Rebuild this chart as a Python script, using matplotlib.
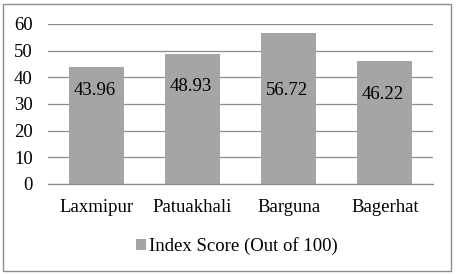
import matplotlib
matplotlib.use("Agg")
import matplotlib.pyplot as plt
from matplotlib.patches import Rectangle

districts = ["Laxmipur", "Patuakhali", "Barguna", "Bagerhat"]
scores = [43.96, 48.93, 56.72, 46.22]
label_heights = [35.2, 36.4, 35.2, 33.6]
yticks = [0, 10, 20, 30, 40, 50, 60]

plt.rcParams["font.family"] = ["Liberation Serif", "DejaVu Serif"]
fs = 13.5

W, H = 459, 275
fig = plt.figure(figsize=(W / 100, H / 100), dpi=100)
ax = fig.add_axes([48 / W, (H - 184) / H, 385 / W, 160 / H])

x = range(len(districts))
ax.bar(x, scores, width=0.57, color="#a5a5a5", zorder=2,
       label="Index Score (Out of 100)")
for i, (v, h) in enumerate(zip(scores, label_heights)):
    ax.text(i - 0.02, h, f"{v:.2f}", ha="center", va="center", fontsize=fs,
            color="#000000", zorder=3)

ax.set_xlim(-0.5, len(districts) - 0.5)
ax.set_ylim(0, 60)
ax.set_yticks(yticks)
ax.set_xticks(list(x))
ax.set_xticklabels(districts)
ax.yaxis.grid(True, color="#8c8c8c", linewidth=0.9, zorder=0)
ax.set_axisbelow(True)
for s in ["top", "right", "left"]:
    ax.spines[s].set_visible(False)
ax.spines["bottom"].set_color("#8c8c8c")
ax.spines["bottom"].set_linewidth(0.9)
ax.tick_params(axis="both", length=0, labelsize=fs)
ax.tick_params(axis="x", pad=11)
ax.tick_params(axis="y", pad=11)

fig.legend(loc="center", bbox_to_anchor=(237 / W, 1 - 246 / H), frameon=False,
           handlelength=0.55, handleheight=0.55, handletextpad=0.15,
           fontsize=fs)

fig.patches.append(Rectangle((3 / W, 1 - 271 / H), 448 / W, 267 / H,
                             transform=fig.transFigure, fill=False,
                             edgecolor="#8c8c8c", linewidth=1.0))

fig.savefig("out.png", dpi=100)
